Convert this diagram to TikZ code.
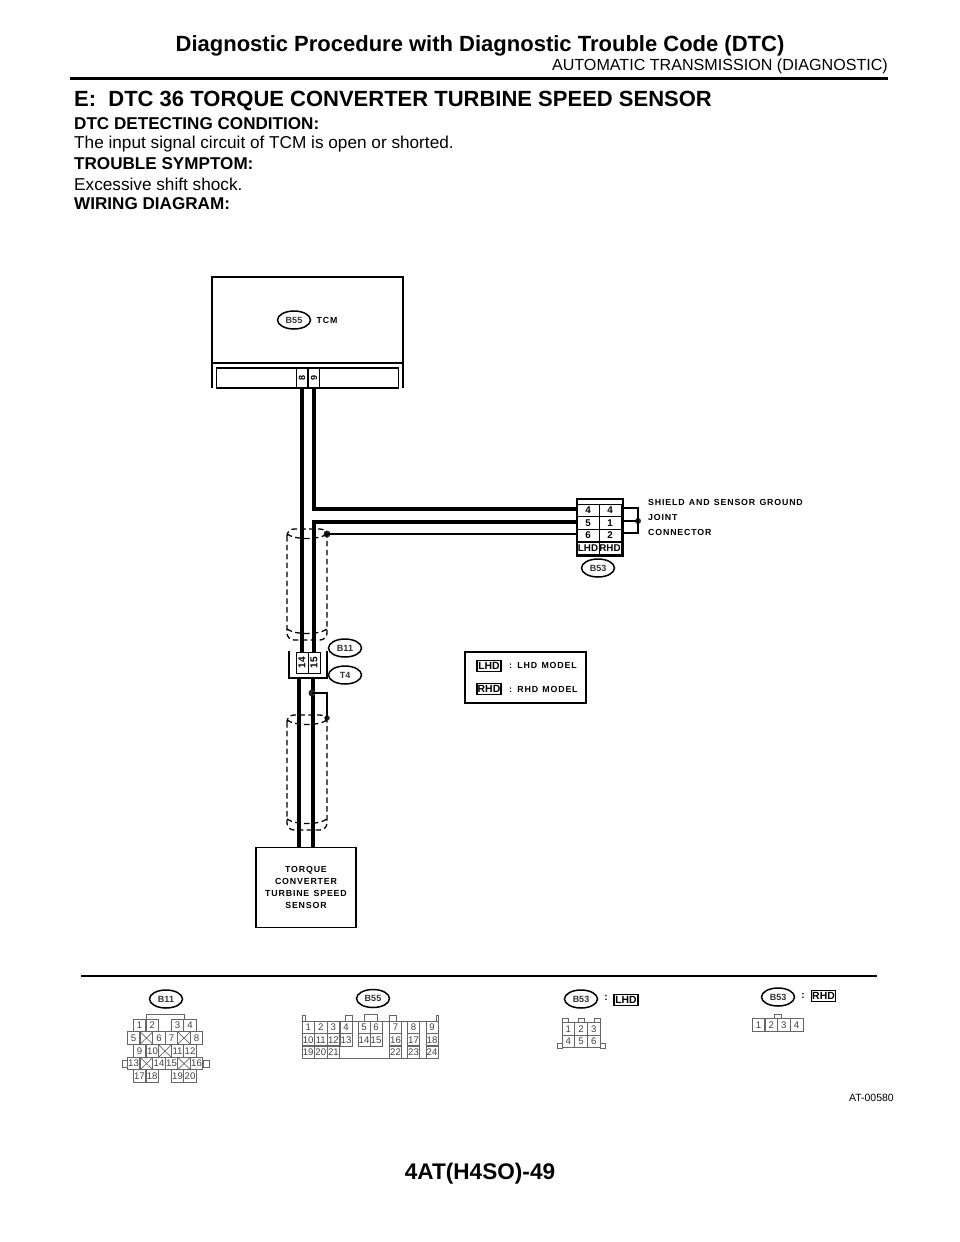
\documentclass[tikz,border=0pt]{standalone}
\usepackage{fontspec}
\usepackage{graphicx}
\setmainfont{Liberation Sans}
\newfontfamily\tagfont[LetterSpace=9.5,WordSpace=1.3]{Liberation Sans Bold}
\usetikzlibrary{positioning,shapes.geometric}

\definecolor{pinline}{gray}{0.4}
\definecolor{pintext}{gray}{0.25}
\newcommand{\sidepin}[1]{\rotatebox{90}{#1}}
\tikzset{
  bodytext/.style={anchor=west,inner sep=0pt,font=\fontsize{17.2}{19}\selectfont},
  headtext/.style={anchor=west,inner sep=0pt,font=\fontsize{17.1}{19}\selectfont\bfseries},
  tagtext/.style={inner sep=0pt,font=\fontsize{8.8}{12}\tagfont},
  connoval/.style={draw,ellipse,line width=1.5pt,minimum width=33pt,minimum height=18pt,inner sep=0pt,font=\fontsize{9}{10}\selectfont\bfseries,text=black!80},
  pin/.style={draw=pinline,line width=.7pt,inner sep=0pt,text=pintext,font=\fontsize{9.6}{10}\selectfont,minimum width=12.6pt,minimum height=12.5pt},
  pinb/.style={pin,minimum width=12.2pt},
  modelbox/.style={draw,line width=1.4pt,inner sep=0pt,minimum width=24pt,minimum height=11.5pt,font=\fontsize{10.4}{10}\selectfont\bfseries},
  tablepin/.style={draw,line width=1pt,minimum width=22pt,minimum height=12.5pt,inner sep=0pt,font=\fontsize{9.8}{10}\selectfont\bfseries},
  tcmpin/.style={draw,line width=.9pt,inner sep=0pt,minimum width=11.5pt,minimum height=20pt,font=\fontsize{9}{9}\selectfont\bfseries},
  wire/.style={line width=4pt},
  thinwire/.style={line width=1.1pt},
  shield/.style={dash pattern=on 5.5pt off 3.4pt,line width=1.3pt},
  joint/.style={circle,fill=black!85,inner sep=0pt,minimum size=7pt},
  keytab/.style={draw=pinline,line width=.7pt}
}

\begin{document}
\begin{tikzpicture}[x=1pt,y=-1pt]
  \useasboundingbox (0,0) rectangle (960,1242);

  % page heading
  \node[anchor=center,inner sep=0pt,font=\fontsize{22}{24}\selectfont\bfseries] (title) at (480,45.5) {Diagnostic Procedure with Diagnostic Trouble Code (DTC)};
  \node[anchor=east,inner sep=0pt,font=\fontsize{16.1}{18}\selectfont] (subtitle) at (888,66) {AUTOMATIC TRANSMISSION (DIAGNOSTIC)};
  \draw[line width=3pt] (70,78) -- (888,78);
  \node[anchor=west,inner sep=0pt,font=\fontsize{22}{24}\selectfont\bfseries] (section) at (74,101) {E:\ \ DTC 36 TORQUE CONVERTER TURBINE SPEED SENSOR};
  \node[headtext] (cond) at (74,124) {DTC DETECTING CONDITION:};
  \node[bodytext] (condtxt) at (74,144) {The input signal circuit of TCM is open or shorted.};
  \node[headtext] (symp) at (74,164) {TROUBLE SYMPTOM:};
  \node[bodytext] (symptxt) at (74,184) {Excessive shift shock.};
  \node[headtext] (wiring) at (74,204) {WIRING DIAGRAM:};

  % TCM
  \draw[line width=1.3pt] (212,388) -- (212,277) -- (403,277) -- (403,388);
  \draw[line width=1.3pt] (212,363) -- (403,363);
  \node[draw,line width=1.3pt,minimum width=182pt,minimum height=20pt,inner sep=0pt] (tcmbar) at (307.5,378) {};
  \node[tcmpin] (tcm8) at (302,378) {\sidepin{8}};
  \node[tcmpin] (tcm9) at (314,378) {\sidepin{9}};
  \node[connoval] (ovtcm) at (294,320) {B55};
  \node[tagtext] (tcmlbl) at (327,320) {TCM};

  % B11/T4
  \draw[line width=1.3pt] (289,651) -- (289,678) -- (327,678) -- (327,651);
  \node[tcmpin,minimum width=12pt,minimum height=21pt,font=\fontsize{10}{10}\selectfont\bfseries] (pin14) at (302,662.5) {\sidepin{14}};
  \node[tcmpin,minimum width=12pt,minimum height=21pt,font=\fontsize{10}{10}\selectfont\bfseries] (pin15) at (314,662.5) {\sidepin{15}};
  \node[connoval] (ovb11) at (345,648) {B11};
  \node[connoval] (ovt4) at (345,675) {T4};

  % joint connector
  \draw[line width=1.3pt] (577,499) -- (623,499) -- (623,556) -- (577,556) -- cycle;
  \foreach \n/\lbl/\x/\y in {l4/4/588/510.5,l5/5/588/523,l6/6/588/535.5,r4/4/610/510.5,r1/1/610/523,r2/2/610/535.5}{
    \node[tablepin] (j\n) at (\x,\y) {\lbl};
  }
  \node[tablepin,minimum height=12pt] (jlhd) at (588,548) {LHD};
  \node[tablepin,minimum height=12pt] (jrhd) at (610,548) {RHD};
  \node[connoval] (ovb53) at (598,568) {B53};
  \node[tagtext,anchor=west] (jnt1) at (648,502) {SHIELD AND SENSOR GROUND};
  \node[tagtext,anchor=west] (jnt2) at (648,517) {JOINT};
  \node[tagtext,anchor=west] (jnt3) at (648,532) {CONNECTOR};
  \node[joint,minimum size=6pt] (gnddot) at (638,521) {};
  \draw[thinwire] (623,508) -- (638,508) -- (gnddot.center) -- (623,521);
  \draw[thinwire] (623,533) -- (638,533) -- (gnddot.center);

  % sensor
  \node[draw,line width=1.3pt,minimum width=100pt,minimum height=80pt,inner sep=0pt,align=center,font=\fontsize{8.8}{12}\tagfont] (sensor) at (306,887.5) {TORQUE\\CONVERTER\\TURBINE SPEED\\SENSOR};

  % wires
  \coordinate (c9) at (314,509);
  \coordinate (c15) at (314,522);
  \draw[wire] (tcm8.south) -- (pin14.north);
  \draw[wire] (tcm9.south) -- (c9) -- (c9 -| jl4.west);
  \draw[wire] (pin15.north) -- (c15) -- (c15 -| jl5.west);
  \coordinate (w14) at (299,678);
  \coordinate (w15) at (313,678);
  \draw[wire] (w14) -- (w14 |- sensor.north);
  \draw[wire] (w15) -- (w15 |- sensor.north);

  % shields
  \node[joint] (shdot) at (327,534) {};
  \draw[thinwire] (shdot.center) -- (shdot.center -| jl6.west);
  \node[joint] (t4dot) at (312,693) {};
  \node[joint,minimum size=5.5pt] (sh2dot) at (327,718) {};
  \draw[thinwire] (t4dot.center) -- (327,693) -- (sh2dot.center);
  \foreach \t/\b in {529/640,715/830}{
    \draw[shield,rounded corners=7pt] (287,\t) rectangle (327,\b);
    \draw[shield] (287,\t+5) .. controls (295,\t+11) and (319,\t+11) .. (327,\t+5);
    \draw[shield] (287,\b-11) .. controls (295,\b-5) and (319,\b-5) .. (327,\b-11);
  }

  % model legend
  \node[draw,line width=1.3pt,minimum width=121pt,minimum height=51pt,inner sep=0pt] (legend) at (525.5,677.5) {};
  \node[modelbox] (lhdkey) at (489,666) {LHD};
  \node[modelbox] (rhdkey) at (489,689) {RHD};
  \node[tagtext,anchor=west] (lhdtxt) at (509,665.5) {: LHD MODEL};
  \node[tagtext,anchor=west] (rhdtxt) at (509,689) {: RHD MODEL};

  % lower part
  \draw[line width=2.2pt] (81,976) -- (877,976);

  % B11 connector view
  \node[connoval] (ovb11v) at (166,999) {B11};
  \draw[keytab] (146,1019) -- (146,1014) -- (184,1014) -- (184,1019);
  \draw[keytab] (127,1060) rectangle (122,1067);
  \draw[keytab] (203,1060) rectangle (209,1067);
  \foreach \n/\x/\y in {1/139.5/1025.5,2/152.2/1025.5,3/177.5/1025.5,4/190/1025.5,
    5/133.5/1038,6/159/1038,7/171.5/1038,8/196.5/1038,
    9/139.5/1051,10/152.5/1051,11/177.5/1051,12/190/1051,
    13/133.5/1063.5,14/159/1063.5,15/171.5/1063.5,16/196.5/1063.5,
    17/139.5/1076,18/152.2/1076,19/177.5/1076,20/190/1076}{
    \node[pin] (bei\n) at (\x,\y) {\n};
  }
  \foreach \k/\x/\y in {a/146.5/1038,b/184/1038,c/165/1051,d/146.5/1063.5,e/184/1063.5}{
    \node[pin] (bex\k) at (\x,\y) {};
    \draw[draw=pinline,line width=.7pt] (bex\k.north west) -- (bex\k.south east) (bex\k.south west) -- (bex\k.north east);
  }

  % B55 connector view
  \node[connoval] (ovb55v) at (373,998.5) {B55};
  \draw[keytab] (302,1021) -- (302,1015) -- (305,1015) -- (305,1021);
  \draw[keytab] (345,1021) -- (345,1015) -- (352,1015) -- (352,1021);
  \draw[keytab] (364,1021) -- (364,1014) -- (377,1014) -- (377,1021);
  \draw[keytab] (389,1021) -- (389,1015) -- (396,1015) -- (396,1021);
  \draw[keytab] (436,1021) -- (436,1015) -- (438,1015) -- (438,1021);
  \draw[keytab] (302,1021) -- (438,1021);
  \draw[keytab] (302,1058) -- (438,1058);
  \foreach \n/\x/\y in {1/308.2/1027.5,2/320.8/1027.5,3/333.4/1027.5,4/346/1027.5,
    10/308.2/1040,11/320.8/1040,12/333.4/1040,13/346/1040,
    19/308.2/1052,20/320.8/1052,21/333.4/1052,
    5/364/1027.5,6/376/1027.5,14/364/1040,15/376/1040,
    7/395.5/1027.5,16/395.5/1040,22/395.5/1052,
    8/413.5/1027.5,17/413.5/1040,23/413.5/1052,
    9/432/1027.5,18/432/1040,24/432/1052}{
    \node[pinb] (bff\n) at (\x,\y) {\n};
  }

  % B53 views
  \node[connoval] (ovb53l) at (581,999) {B53};
  \node[inner sep=0pt,font=\fontsize{10}{10}\selectfont\bfseries] (cola) at (606,998) {:};
  \node[modelbox,minimum height=11pt] (lhdv) at (626,1000) {LHD};
  \foreach \x in {562,578,594}{
    \draw[keytab] (\x,1023) -- (\x,1018) -- (\x+6,1018) -- (\x+6,1023);
  }
  \draw[keytab] (557,1043) rectangle (562,1048);
  \draw[keytab] (600,1043) rectangle (605,1048);
  \foreach \n/\x/\y in {1/568.3/1029,2/581/1029,3/593.7/1029,4/568.3/1041.5,5/581/1041.5,6/593.7/1041.5}{
    \node[pin] (bfl\n) at (\x,\y) {\n};
  }
  \node[connoval] (ovb53r) at (778,997) {B53};
  \node[inner sep=0pt,font=\fontsize{10}{10}\selectfont\bfseries] (colb) at (803,996) {:};
  \node[modelbox,minimum height=11pt] (rhdv) at (823.5,996) {RHD};
  \draw[keytab] (774,1019) -- (774,1014) -- (781,1014) -- (781,1019);
  \foreach \n/\x in {1/758.5,2/771.2,3/783.9,4/796.6}{
    \node[pin] (bfr\n) at (\x,1025) {\n};
  }

  \node[anchor=east,inner sep=0pt,font=\fontsize{10.5}{12}\selectfont] (figno) at (894,1097.5) {AT-00580};
  \node[inner sep=0pt,font=\fontsize{22.6}{24}\selectfont\bfseries] (pageno) at (480,1173.5) {4AT(H4SO)-49};
\end{tikzpicture}
\end{document}
